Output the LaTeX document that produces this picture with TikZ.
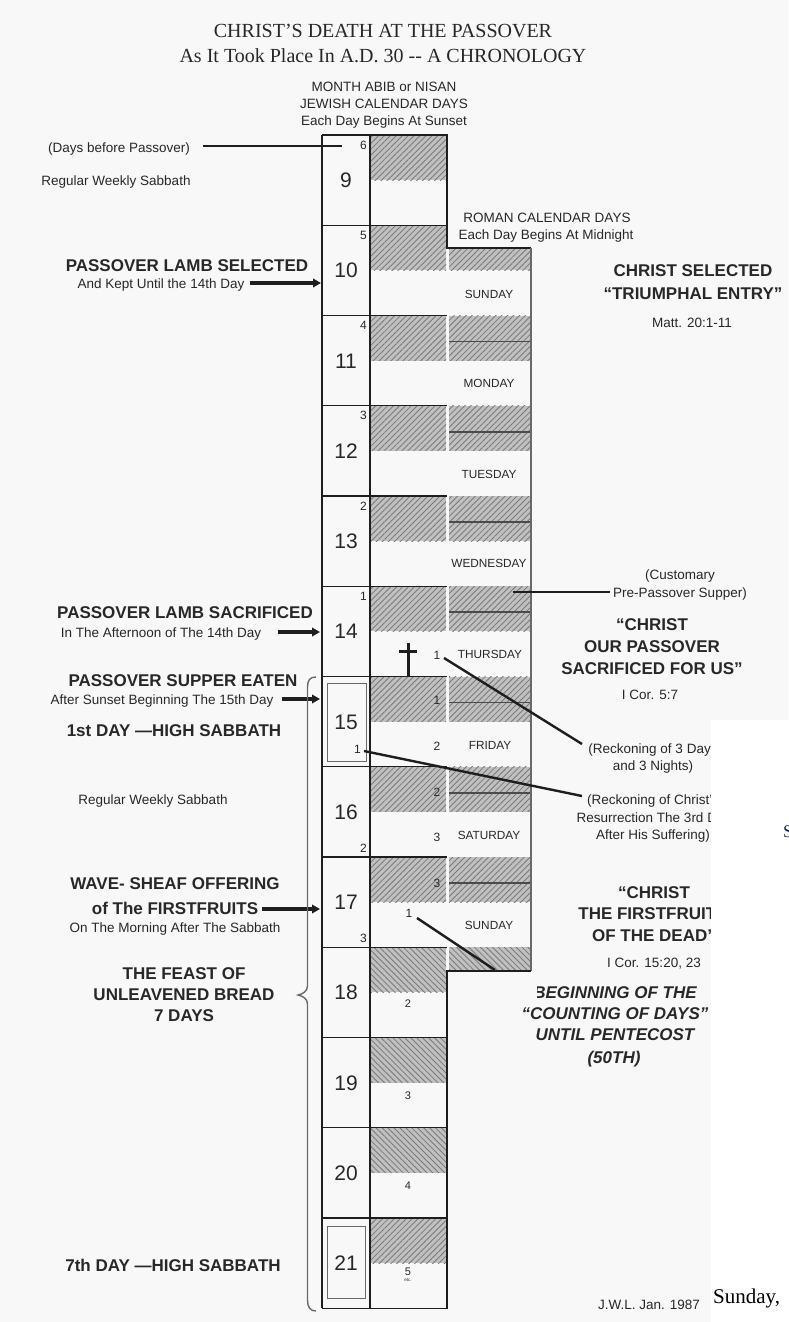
\documentclass[tikz,border=0pt]{standalone}
\usepackage{fontspec}
\setmainfont{Liberation Sans}
\newfontfamily\titleserif{Liberation Serif}
\usetikzlibrary{patterns.meta,arrows.meta}
\definecolor{pagebg}{RGB}{248,248,248}
\definecolor{txt}{RGB}{40,40,40}
\definecolor{lnc}{RGB}{30,30,30}
\definecolor{hatchbg}{RGB}{192,192,192}
\definecolor{hatchln}{RGB}{122,122,122}
\definecolor{rline}{RGB}{105,105,105}
\definecolor{mid}{RGB}{75,75,75}
\definecolor{navy}{RGB}{30,40,90}
\tikzset{
  sm/.style={font=\fontsize{13.5}{16}\selectfont, anchor=base, inner sep=0pt, text=txt},
  bd/.style={font=\bfseries\fontsize{17}{20}\selectfont, anchor=base, inner sep=0pt, text=txt},
  bi/.style={font=\bfseries\itshape\fontsize{17}{20}\selectfont, anchor=base, inner sep=0pt, text=txt},
  rday/.style={font=\fontsize{11.8}{14}\selectfont, anchor=base, inner sep=0pt, text=txt},
  bignum/.style={font=\fontsize{21}{24}\selectfont, anchor=base, inner sep=0pt, text=txt},
  cnum/.style={font=\fontsize{12}{14}\selectfont, anchor=base, inner sep=0pt, text=txt},
  ttl/.style={font=\titleserif\fontsize{20}{24}\selectfont, anchor=base, inner sep=0pt, text=txt},
  tline/.style={draw=lnc, line width=1.2pt},
  mline/.style={draw=mid, line width=1.7pt},
  conn/.style={draw=lnc, line width=2.6pt},
  harrow/.style={draw=lnc, line width=4.5pt, -{Triangle[length=8pt,width=8.5pt]}},
  hatchA/.style={fill=hatchbg, postaction={pattern={Lines[angle=45,distance=4.2pt,line width=0.85pt]}, pattern color=hatchln}},
  hatchB/.style={fill=hatchbg, postaction={pattern={Lines[angle=-45,distance=4.2pt,line width=0.85pt]}, pattern color=hatchln}},
}
\begin{document}
\begin{tikzpicture}[x=1pt,y=-1pt]
\useasboundingbox (0,0) rectangle (788,1322);
\fill[pagebg] (0,0) rectangle (788,1322);

% ---- shading, Jewish column
\foreach \i in {0,1,2,3,4,5,6,7,8,12} {
  \pgfmathsetmacro\tp{135+\i*90.25}
  \path[hatchA] (371,\tp) rectangle (446,\tp+45);
}
\foreach \i in {9,10,11} {
  \pgfmathsetmacro\tp{135+\i*90.25}
  \path[hatchB] (371,\tp) rectangle (446,\tp+45);
}
% ---- shading, Roman column
\path[hatchA] (449,248) rectangle (531,270.25);
\foreach \i in {2,...,8} {
  \pgfmathsetmacro\tp{135+\i*90.25}
  \path[hatchA] (449,\tp) rectangle (531,\tp+45);
  \draw[mline] (449,\tp+26) -- (531,\tp+26);
}
\path[hatchB] (449,947.25) rectangle (531,971);

% ---- table lines
\draw[tline] (322,135) -- (322,1308.25);
\draw[tline] (370,135) -- (370,1308.25);
\draw[tline] (322,135) -- (447,135) -- (447,248) -- (531,248);
\draw[draw=rline, line width=1.5pt] (531,248) -- (531,971);
\draw[tline] (531,971) -- (447,971) -- (447,1308.25) -- (322,1308.25);
\foreach \i in {1,...,12} {
  \pgfmathsetmacro\tp{135+\i*90.25}
  \draw[tline] (322,\tp) -- (446.5,\tp);
}
% inner boxes (high sabbaths)
\draw[draw=rline, line width=0.9pt] (327,683) rectangle (366,761);
\draw[draw=rline, line width=0.9pt] (327,1226) rectangle (365,1298);

% ---- big day numbers
\foreach \d [count=\k from 0] in {9,10,11,12,13,14,15,16,17,18,19,20,21} {
  \pgfmathsetmacro\bl{135+\k*90.25+52.6}
  \node[bignum] (day\d) at (346,\bl) {\d};
}
% days before passover
\foreach \n [count=\k from 0] in {6,5,4,3,2,1} {
  \pgfmathsetmacro\bl{135+\k*90.25+14}
  \node[cnum, anchor=base east] (dbp\n) at (367,\bl) {\n};
}
\node[cnum, anchor=base east] (cA) at (361,753) {1};
\node[cnum, anchor=base east] (cB) at (367,852) {2};
\node[cnum, anchor=base east] (cC) at (367,942) {3};
% three days and nights counts
\node[cnum] (r1) at (437,659) {1};
\node[cnum] (r2) at (437,704) {1};
\node[cnum] (r3) at (437,750) {2};
\node[cnum] (r4) at (437,796) {2};
\node[cnum] (r5) at (437,841) {3};
\node[cnum] (r6) at (437,887) {3};
% counting of days
\node[cnum] (q1) at (409,917) {1};
\node[cnum, font=\fontsize{11}{13}\selectfont] (q2) at (408,1007) {2};
\node[cnum, font=\fontsize{11}{13}\selectfont] (q3) at (408,1099) {3};
\node[cnum, font=\fontsize{11}{13}\selectfont] (q4) at (408,1189) {4};
\node[cnum, font=\fontsize{11}{13}\selectfont] (q5) at (408,1275) {5};
\node[cnum, font=\fontsize{4.5}{5}\selectfont] (qetc) at (408,1281) {etc.};

% ---- Roman day labels
\node[rday] (sun1) at (489,298) {SUNDAY};
\node[rday] (mon) at (489,387) {MONDAY};
\node[rday] (tue) at (489,478) {TUESDAY};
\node[rday] (wed) at (489,567) {WEDNESDAY};
\node[rday] (thu) at (490,658) {THURSDAY};
\node[rday] (fri) at (490,749) {FRIDAY};
\node[rday] (sat) at (489,839) {SATURDAY};
\node[rday] (sun2) at (489,929) {SUNDAY};

% ---- cross
\draw[draw=lnc, line width=3pt] (408,643) -- (408,676.5);
\draw[draw=lnc, line width=3pt] (399,651) -- (417,651);

% ---- titles and headers
\node[ttl] (title1) at (383,38) {CHRIST’S DEATH AT THE PASSOVER};
\node[ttl] (title2) at (383,63) {As It Took Place In A.D. 30 -{}- A CHRONOLOGY};
\node[sm] (h1) at (384,91) {MONTH ABIB or NISAN};
\node[sm] (h2) at (384,108) {JEWISH CALENDAR DAYS};
\node[sm] (h3) at (384,125) {Each Day Begins At Sunset};
\node[sm] (rh1) at (547,222) {ROMAN CALENDAR DAYS};
\node[sm] (rh2) at (546,239) {Each Day Begins At Midnight};

% ---- left labels
\node[sm] (dbp) at (119,152) {(Days before Passover)};
\node[sm] (rws1) at (116,185) {Regular Weekly Sabbath};
\node[bd] (sel) at (187,271) {PASSOVER LAMB SELECTED};
\node[sm] (selb) at (161,288) {And Kept Until the 14th Day};
\node[bd] (sac) at (185,618) {PASSOVER LAMB SACRIFICED};
\node[sm] (sacb) at (161,637) {In The Afternoon of The 14th Day};
\node[bd] (sup) at (183,686) {PASSOVER SUPPER EATEN};
\node[sm] (supb) at (162,704) {After Sunset Beginning The 15th Day};
\node[bd] (hs1) at (174,736) {1st DAY —HIGH SABBATH};
\node[sm] (rws2) at (153,804) {Regular Weekly Sabbath};
\node[bd] (wav1) at (175,889) {WAVE- SHEAF OFFERING};
\node[bd] (wav2) at (175,914) {of The FIRSTFRUITS};
\node[sm] (wav3) at (175,932) {On The Morning After The Sabbath};
\node[bd] (fe1) at (184,979) {THE FEAST OF};
\node[bd] (fe2) at (184,1000) {UNLEAVENED BREAD};
\node[bd] (fe3) at (184,1021) {7 DAYS};
\node[bd] (hs7) at (173,1271) {7th DAY —HIGH SABBATH};

% ---- right labels
\node[bd] (cs1) at (693,276) {CHRIST SELECTED};
\node[bd] (cs2) at (693,299) {“TRIUMPHAL ENTRY”};
\node[sm] (cs3) at (692,327) {Matt. 20:1-11};
\node[sm] (cu1) at (680,579) {(Customary};
\node[sm] (cu2) at (680,597) {Pre-Passover Supper)};
\node[bd] (cp1) at (652,630) {“CHRIST};
\node[bd] (cp2) at (652,652) {OUR PASSOVER};
\node[bd] (cp3) at (652,674) {SACRIFICED FOR US”};
\node[sm] (cp4) at (650,699) {I Cor. 5:7};
\node[sm] (rk1) at (653,753) {(Reckoning of 3 Days};
\node[sm] (rk2) at (653,770) {and 3 Nights)};
\node[sm] (rc1) at (653,804) {(Reckoning of Christ’s};
\node[sm] (rc2) at (654,822) {Resurrection The 3rd Day};
\node[sm] (rc3) at (653,839) {After His Suffering)};
\node[bd] (cf1) at (654,898) {“CHRIST};
\node[bd] (cf2) at (653,919) {THE FIRSTFRUITS};
\node[bd] (cf3) at (654,941) {OF THE DEAD”};
\node[sm] (cf4) at (654,967) {I Cor. 15:20, 23};
\node[bi] (bg1) at (615,998) {BEGINNING OF THE};
\node[bi] (bg2) at (615,1019) {“COUNTING OF DAYS”};
\node[bi] (bg3) at (615,1040) {UNTIL PENTECOST};
\node[bi] (bg4) at (614,1063) {(50TH)};
\fill[pagebg] (500,978) rectangle (536.5,1002);
\node[sm] (jwl) at (649,1309) {J.W.L. Jan. 1987};

% ---- connectors
\coordinate (l0a) at (203,146);  \coordinate (l0b) at (342,146);
\draw[conn] (l0a) -- (l0b);
\coordinate (a1a) at (250,283);  \coordinate (a1b) at (321,283);
\draw[harrow] (a1a) -- (a1b);
\coordinate (a2a) at (278,632);  \coordinate (a2b) at (320,632);
\draw[harrow] (a2a) -- (a2b);
\coordinate (a3a) at (282,699);  \coordinate (a3b) at (320,699);
\draw[harrow] (a3a) -- (a3b);
\coordinate (a4a) at (262,909);  \coordinate (a4b) at (320,909);
\draw[harrow] (a4a) -- (a4b);
\coordinate (pp1) at (513,592);  \coordinate (pp2) at (610,592);
\draw[conn] (pp1) -- (pp2);
\coordinate (k1) at (444,658);  \coordinate (k2) at (582,744);
\draw[conn, line width=2.4pt] (k1) -- (k2);
\coordinate (k3) at (364,751);  \coordinate (k4) at (582,796);
\draw[conn, line width=2.4pt] (k3) -- (k4);
\coordinate (k5) at (417,918);  \coordinate (k6) at (495,970);
\draw[conn, line width=2.4pt] (k5) -- (k6);

% ---- brace
\draw[draw=rline, line width=1.4pt] (316,677) .. controls (310,677) and (307.5,680) .. (307.5,687)
  -- (307.5,986) .. controls (307.5,991) and (303,994) .. (298,995)
  .. controls (303,996) and (307.5,999) .. (307.5,1004)
  -- (307.5,1300) .. controls (307.5,1307) and (310,1311) .. (316,1311);

% ---- overlaying white panel and stray texts
\fill[white] (711,720) rectangle (788,1322);
\node[font=\titleserif\fontsize{18}{20}\selectfont, anchor=base west, inner sep=0pt, text=navy] (strayS) at (783,837) {S};
\node[font=\titleserif\fontsize{21}{24}\selectfont, anchor=base west, inner sep=0pt, text=black] (sunday) at (713,1303) {Sunday,};
\end{tikzpicture}
\end{document}
